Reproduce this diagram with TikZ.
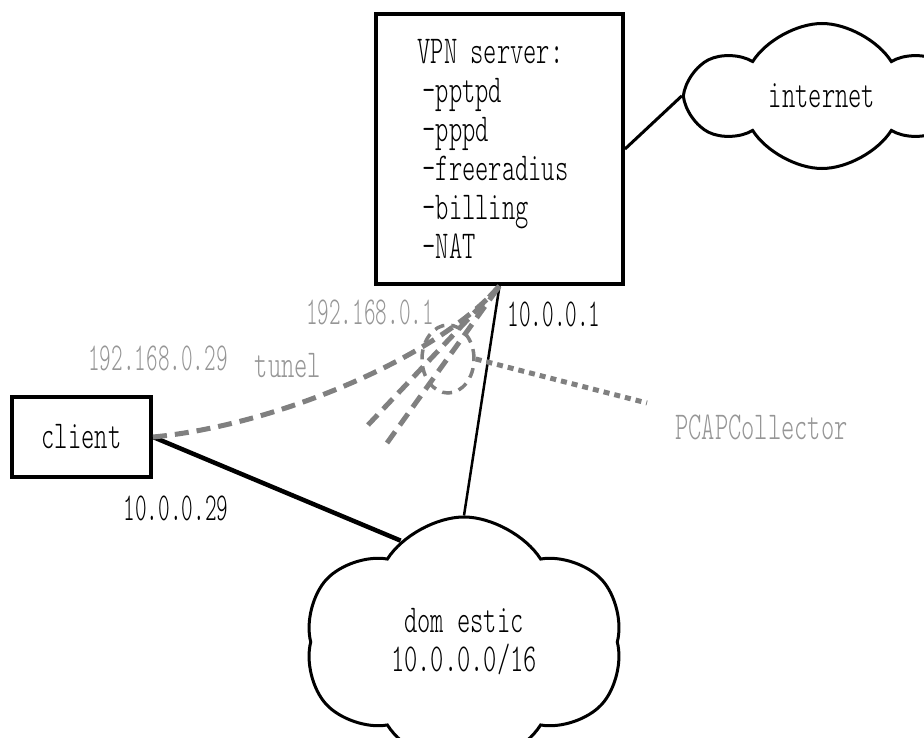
\documentclass[tikz,border=0pt]{standalone}
\usepackage{fontspec}
\newfontfamily\netfont[FakeStretch=0.64]{lmmonolt10-regular.otf}
\newfontfamily\numfont[FakeStretch=0.56]{lmmonolt10-regular.otf}
\usepackage{xcolor}
\usepackage{tikz}
\usetikzlibrary{shapes.geometric, shapes.symbols, positioning}

\definecolor{tungray}{RGB}{128,128,128}
\definecolor{labgray}{RGB}{150,150,150}

\begin{document}
\begin{tikzpicture}[x=1pt, y=-1pt,
    every node/.style={font=\netfont\fontsize{39.5}{39}\selectfont},
    addr/.style={font=\numfont\fontsize{39.5}{39}\selectfont},
    hostbox/.style={draw, line width=4pt, inner sep=0pt},
    netcloud/.style={cloud, draw, line width=3pt, cloud ignores aspect, align=center,
        cloud puffs=6, cloud puff arc=115},
    tunnel/.style={draw=tungray, line width=5pt, dash pattern=on 14pt off 8pt},
    tapline/.style={draw=tungray, line width=5pt, dash pattern=on 6pt off 5pt}]
    \useasboundingbox (0,0) rectangle (924,738);
    \clip (0,0) rectangle (924,738);

    % hosts
    \node[hostbox, minimum width=247pt, minimum height=270pt, text width=164pt, align=left] (vpn) at (499.5,149)
        {VPN server:\\ \hspace*{5pt}-pptpd\\ \hspace*{5pt}-pppd\\ \hspace*{5pt}-freeradius\\ \hspace*{5pt}-billing\\ \hspace*{5pt}-NAT};
    \node[hostbox, minimum width=139pt, minimum height=80pt] (client) at (81.5,437) {client};

    % networks
    \node[netcloud, minimum width=262pt, minimum height=145pt] (inet) at (822,96) {internet};
    \node[netcloud, minimum width=318pt, minimum height=250pt] (dom) at (464,642) {dom estic\\10.0.0.0/16};

    % wires
    \draw[line width=3pt] (vpn.east) -- (inet.west);
    \draw[line width=4.5pt] (client.east) -- (dom.122);
    \draw[line width=2.5pt] (vpn.south) -- (dom.90);

    % tunnel and capture
    \coordinate (t1) at (368,425);
    \coordinate (t2) at (387,443);
    \draw[tunnel] (client.east) .. controls (280,425) and (440,355) .. (vpn.south);
    \draw[tunnel] (t1) -- (vpn.south);
    \draw[tunnel] (t2) -- (vpn.south);
    \node[ellipse, draw=tungray, line width=3.5pt, dash pattern=on 10pt off 7pt,
          minimum width=52pt, minimum height=68pt] (tap) at (448,359) {};
    \coordinate (pc) at (647,403);
    \draw[tapline] (tap.east) -- (pc);

    % labels
    \node[addr, text=labgray] (ipvpn) at (370,312) {192.168.0.1};
    \node[addr] (lanvpn) at (554,314) {10.0.0.1};
    \node[addr, text=labgray] (ipcli) at (158,358) {192.168.0.29};
    \node[text=labgray] (tun) at (288,366) {tunel};
    \node[addr] (lancli) at (176,508) {10.0.0.29};
    \node[text=labgray, anchor=west, inner sep=0pt] (pcap) at (675,427) {PCAPCollector};
\end{tikzpicture}
\end{document}
